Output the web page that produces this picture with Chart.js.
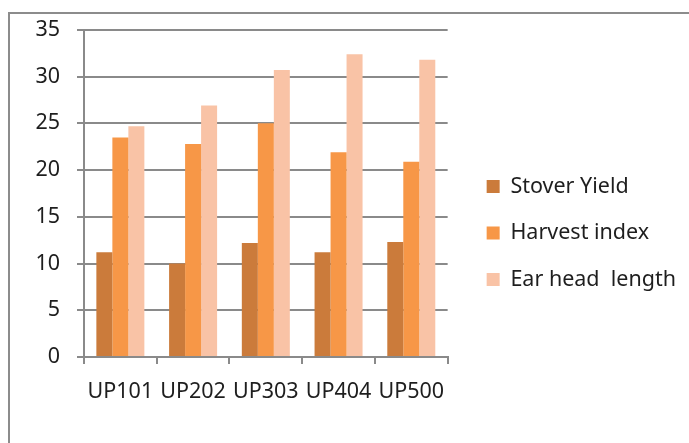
<!DOCTYPE html>
<html>
<head>
<meta charset="utf-8">
<script src="https://cdn.jsdelivr.net/npm/chart.js@4/dist/chart.umd.min.js"></script>
<style>
  html, body { margin: 0; padding: 0; background: #fff; }
  #wrap { position: relative; width: 689px; height: 443px; overflow: hidden; }
  #frame { position: absolute; left: 8px; top: 12px; width: 700px; height: 460px;
           border-top: 2px solid #8c8c8c; border-left: 2px solid #8c8c8c; }
  canvas { position: absolute; left: 0; top: 0; }
</style>
</head>
<body>
<div id="wrap">
  <div id="frame"></div>
  <canvas id="c" width="689" height="443"></canvas>
</div>
<script>
// Varieties and measured traits
const categories = ['UP101', 'UP202', 'UP303', 'UP404', 'UP500'];
const stoverYield = [11.2, 10.0, 12.2, 11.2, 12.3];
const harvestIndex = [23.5, 22.8, 25.0, 21.9, 20.9];
const earHeadLength = [24.7, 26.9, 30.7, 32.4, 31.8];
const seriesNames = ['Stover Yield', 'Harvest index', 'Ear head  length'];
const yTicks = [0, 5, 10, 15, 20, 25, 30, 35];

const FONT = { family: '"Noto Sans", sans-serif', size: 21.5 };
const GRID = '#8a8a8a';

// Leaves a gap between the plot and the legend
const legendGap = {
  id: 'legendGap',
  afterLayout(chart) {
    const lg = chart.legend;
    if (lg) { lg.left += 14; lg.right += 14; }
  }
};

new Chart(document.getElementById('c'), {
  type: 'bar',
  data: {
    labels: categories,
    datasets: [
      { label: seriesNames[0], data: stoverYield, backgroundColor: '#cb7b3b' },
      { label: seriesNames[1], data: harvestIndex, backgroundColor: '#f79747' },
      { label: seriesNames[2], data: earHeadLength, backgroundColor: '#f9c3a6' }
    ]
  },
  options: {
    responsive: false,
    animation: false,
    categoryPercentage: 0.66,
    barPercentage: 1.0,
    layout: { padding: { top: 28, left: 0, right: 17, bottom: 5 } },
    plugins: {
      tooltip: { enabled: false },
      legend: {
        position: 'right',
        align: 'center',
        maxWidth: 400,
        labels: {
          boxWidth: 13,
          boxHeight: 13,
          padding: 25,
          color: '#1e1e1e',
          font: FONT
        }
      }
    },
    scales: {
      x: {
        grid: { display: true, drawOnChartArea: false, drawTicks: true, tickLength: 7,
                offset: true, color: GRID, lineWidth: 2 },
        border: { display: true, color: GRID, width: 2 },
        ticks: { color: '#1e1e1e', font: FONT, padding: 15, maxRotation: 0 },
        afterFit(scale) { scale.height = 443 - 5 - 357; }
      },
      y: {
        min: 0,
        max: 35,
        afterBuildTicks(scale) { scale.ticks = yTicks.map(v => ({ value: v })); },
        grid: { color: GRID, lineWidth: 2, tickLength: 7, drawTicks: true },
        border: { display: true, color: GRID, width: 2 },
        ticks: { color: '#1e1e1e', font: FONT, padding: 17 },
        afterFit(scale) { scale.width = 84; }
      }
    }
  },
  plugins: [legendGap]
});
</script>
</body>
</html>
